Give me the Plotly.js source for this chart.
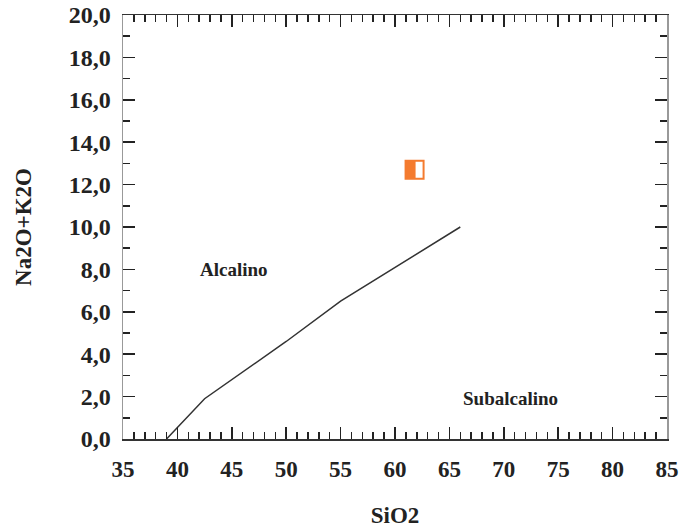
<!DOCTYPE html>
<html>
<head>
<meta charset="utf-8">
<script src="https://cdn.plot.ly/plotly-3.0.1.min.js"></script>
<style>html,body{margin:0;padding:0;background:#fff;}#chart{width:681px;height:528px;}</style>
</head>
<body>
<div id="chart"></div>
<script>
// Divider line (alkaline / subalkaline)
var lineSiO2 = [39.0, 42.5, 50.0, 55.0, 66.0];
var lineAlk = [0.0, 1.9, 4.6, 6.5, 10.0];
// Sample
var sampleSiO2 = [61.8];
var sampleAlk = [12.7];
// Field labels
var fieldNames = ['Alcalino', 'Subalcalino'];
var fieldSiO2 = [45.2, 70.6];
var fieldAlk = [8.0, 1.9];
var xTicks = [35, 40, 45, 50, 55, 60, 65, 70, 75, 80, 85];
var yTicks = [0, 2, 4, 6, 8, 10, 12, 14, 16, 18, 20];

var serif = 'Liberation Serif';
var orange = '#f47b2f';

var traces = [
  {x: lineSiO2, y: lineAlk, mode: 'lines', line: {color: '#333', width: 1.5}, hoverinfo: 'skip', showlegend: false},
  {x: sampleSiO2, y: sampleAlk, mode: 'markers', marker: {symbol: 'square', size: 20, color: orange, line: {width: 0}}, showlegend: false}
];

var annotations = fieldNames.map(function (t, i) {
  return {x: fieldSiO2[i], y: fieldAlk[i], xref: 'x', yref: 'y', text: '<b>' + t + '</b>', showarrow: false,
    font: {family: serif, size: 19, color: '#222'}};
});

var shapes = sampleSiO2.map(function (v, i) {
  return {type: 'rect', xref: 'x', yref: 'y', xsizemode: 'pixel', ysizemode: 'pixel',
    xanchor: v, yanchor: sampleAlk[i], x0: 1, x1: 8, y0: -8, y1: 8,
    fillcolor: '#ffffff', line: {width: 0}, layer: 'above'};
});

var layout = {
  width: 681, height: 528,
  margin: {l: 123, r: 14, t: 15, b: 89},
  paper_bgcolor: '#fff', plot_bgcolor: '#fff',
  font: {family: serif},
  showlegend: false,
  xaxis: {
    range: [35, 85], tickvals: xTicks, ticktext: xTicks.map(function (v) { return '<b>' + v + '</b>'; }),
    ticks: 'inside', ticklen: 12, tickwidth: 1.5, tickcolor: '#222',
    minor: {dtick: 1, tick0: 35, ticks: 'inside', ticklen: 7, tickwidth: 1.5, tickcolor: '#222'},
    showline: true, linecolor: '#333', linewidth: 1.5, mirror: 'ticks',
    showgrid: false, zeroline: false,
    tickfont: {family: serif, size: 23, color: '#222'},
    ticklabelstandoff: 9,
    title: {text: '<b>SiO2</b>', font: {family: serif, size: 23, color: '#222'}, standoff: 27}
  },
  yaxis: {
    range: [0, 20], tickvals: yTicks, ticktext: yTicks.map(function (v) { return '<b>' + v.toFixed(1).replace('.', ',') + '</b>'; }),
    ticks: 'inside', ticklen: 12, tickwidth: 1.5, tickcolor: '#222',
    minor: {dtick: 1, tick0: 0, ticks: 'inside', ticklen: 7, tickwidth: 1.5, tickcolor: '#222'},
    showline: true, linecolor: '#999', linewidth: 1.5, mirror: 'ticks',
    showgrid: false, zeroline: false,
    tickfont: {family: serif, size: 24, color: '#222'},
    ticklabelstandoff: 6,
    title: {text: '<b>Na2O+K2O</b>', font: {family: serif, size: 23, color: '#222'}, standoff: 30}
  },
  annotations: annotations,
  shapes: shapes
};

Plotly.newPlot('chart', traces, layout, {displayModeBar: false, staticPlot: true});
</script>
</body>
</html>
